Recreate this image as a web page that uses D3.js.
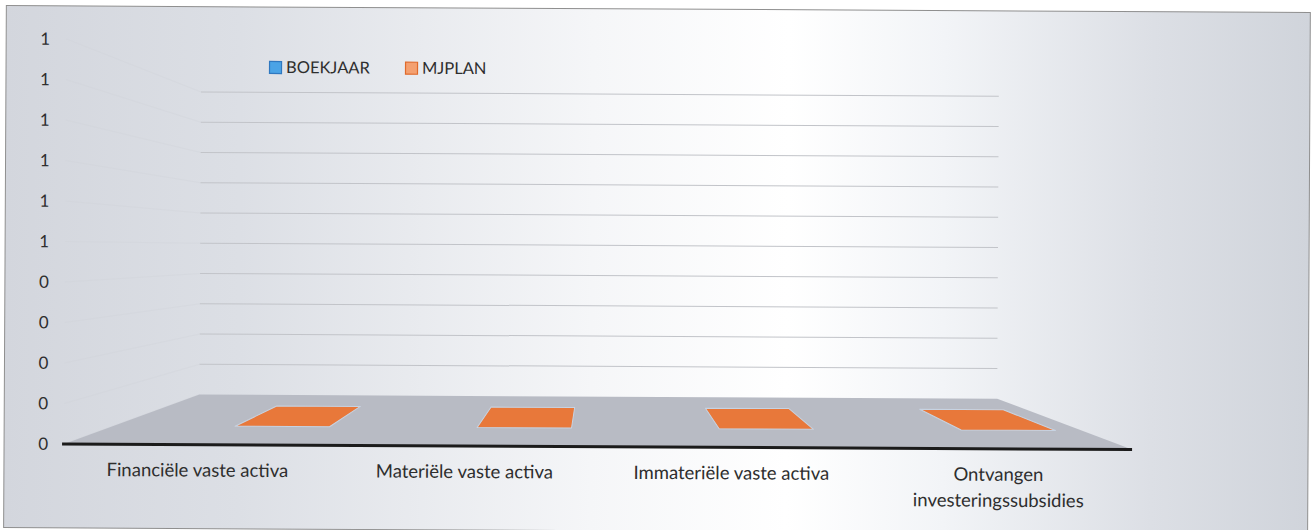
<!DOCTYPE html>
<html>
<head>
<meta charset="utf-8">
<script src="https://cdn.jsdelivr.net/npm/d3@7"></script>
<style>
  html, body { margin: 0; padding: 0; background: #ffffff; }
  svg { display: block; }
  text { font-family: Lato, "Open Sans", "Liberation Sans", sans-serif; fill: #2e2e2e; }
</style>
</head>
<body>
<svg id="chart" width="1314" height="530"></svg>
<script>
// ---------------- data ----------------
const categories = ["Financiële vaste activa", "Materiële vaste activa", "Immateriële vaste activa", "Ontvangen investeringssubsidies"];
const seriesNames = ["BOEKJAAR", "MJPLAN"];
const seriesColors = ["#3a93d6", "#e8783a"];
const boekjaar = [null, null, null, null];
const mjplan = [0, 0, 0, 0];
const yTickValues = [0, 0.1, 0.2, 0.3, 0.4, 0.5, 0.6, 0.7, 0.8, 0.9, 1.0];
const yTickLabels = ["0", "0", "0", "0", "0", "1", "1", "1", "1", "1", "1"];

// ---------------- layout ----------------
const svg = d3.select("#chart");
const defs = svg.append("defs");

const bg = defs.append("linearGradient").attr("id", "bgGrad").attr("x1", "0%").attr("x2", "100%").attr("y1", "0%").attr("y2", "0%");
[["0%", "#d3d6dd"], ["18%", "#dcdfe5"], ["45%", "#f5f6f8"], ["60%", "#ffffff"], ["72%", "#f2f4f7"], ["88%", "#dcdfe5"], ["100%", "#d0d4db"]]
  .forEach(([o, c]) => bg.append("stop").attr("offset", o).attr("stop-color", c));

const root = svg.append("g").attr("transform", "rotate(0.3, 657, 265)");

// chart area background + frame
root.append("rect").attr("x", 5).attr("y", 9).attr("width", 1304).attr("height", 522)
  .attr("fill", "url(#bgGrad)").attr("stroke", "#8f8f8f").attr("stroke-width", 1);

// scales (front plane)
const x0 = d3.scaleBand().domain(categories).range([65, 1133]).paddingInner(0.22).paddingOuter(0.11);
const xAxisBand = d3.scaleBand().domain(categories).range([65, 1133]);
const x1 = d3.scaleBand().domain(seriesNames).range([0, x0.bandwidth()]);
const y = d3.scaleLinear().domain([0, 1]).range([447, 42]);

// perspective projection: depth t in [0 (front), 1 (back)]
const V = { x: 599, y: 249 };
const backScale = 0.747;
function proj(xf, yf, t) {
  const s = 1 - (1 - backScale) * t;
  return [V.x + (xf - V.x) * s, V.y + (yf - V.y) * s];
}
const [xa, xb] = x0.range();

// side wall gridlines (very faint)
root.append("g").selectAll("line").data(yTickValues).join("line")
  .attr("x1", d => proj(xa, y(d), 0)[0]).attr("y1", d => proj(xa, y(d), 0)[1])
  .attr("x2", d => proj(xa, y(d), 1)[0]).attr("y2", d => proj(xa, y(d), 1)[1])
  .attr("stroke", "#d0d3d9").attr("stroke-width", 1).attr("opacity", 0.35);

// back wall gridlines
root.append("g").selectAll("line").data(yTickValues.filter(v => v > 0)).join("line")
  .attr("x1", d => proj(xa, y(d), 1)[0]).attr("y1", d => proj(xa, y(d), 1)[1])
  .attr("x2", d => proj(xb, y(d), 1)[0]).attr("y2", d => proj(xb, y(d), 1)[1])
  .attr("stroke", "#c2c4c9").attr("stroke-width", 1);

// floor
const y0 = y(0);
root.append("polygon")
  .attr("points", [proj(xa, y0, 0), proj(xb, y0, 0), proj(xb, y0, 1), proj(xa, y0, 1)].map(p => p.join(",")).join(" "))
  .attr("fill", "#b8bbc4");

// bars (3D columns: front face + top face)
const seriesData = [boekjaar, mjplan];
const tFront = 0.37, tBack = 0.78;
const barItems = [];
seriesData.forEach((vals, si) => {
  vals.forEach((v, ci) => {
    if (v === null || v === undefined) return;
    barItems.push({ series: seriesNames[si], color: seriesColors[si], cat: categories[ci], value: v });
  });
});
const bars = root.append("g").selectAll("g").data(barItems).join("g");
bars.append("polygon")
  .attr("points", d => {
    const xl = x0(d.cat) + x1(d.series), xr = xl + x1.bandwidth();
    return [proj(xl, y(0), tFront), proj(xr, y(0), tFront), proj(xr, y(d.value), tFront), proj(xl, y(d.value), tFront)].map(p => p.join(",")).join(" ");
  })
  .attr("fill", d => d.color);
bars.append("polygon")
  .attr("points", d => {
    const xl = x0(d.cat) + x1(d.series), xr = xl + x1.bandwidth(), yv = y(d.value);
    return [proj(xl, yv, tFront), proj(xr, yv, tFront), proj(xr, yv, tBack), proj(xl, yv, tBack)].map(p => p.join(",")).join(" ");
  })
  .attr("fill", d => d.color)
  .attr("stroke", "#c7d3e2").attr("stroke-width", 1).attr("stroke-linejoin", "round");

// category axis line
root.append("line").attr("x1", xa - 2).attr("x2", xb).attr("y1", y0).attr("y2", y0)
  .attr("stroke", "#1b1b1b").attr("stroke-width", 3);

// y axis labels
const yAxis = d3.axisLeft(y).tickValues(yTickValues).tickSize(0).tickPadding(0)
  .tickFormat((d, i) => yTickLabels[i]);
const yg = root.append("g").attr("transform", "translate(49,0)").call(yAxis);
yg.select(".domain").remove();
yg.selectAll("text").style("font-family", "Lato, 'Open Sans', sans-serif").style("font-size", "17px").attr("fill", "#2e2e2e");

// category labels (wrapped)
const catG = root.append("g");
const catFont = "18.5px";
categories.forEach(c => {
  const cx = xAxisBand(c) + xAxisBand.bandwidth() / 2;
  const t = catG.append("text").attr("x", cx).attr("y", 479).attr("text-anchor", "middle").style("font-size", catFont);
  const words = c.split(" ");
  const lines = [];
  let cur = [];
  const tmp = catG.append("text").style("font-size", catFont);
  words.forEach(w => {
    const test = cur.concat([w]).join(" ");
    tmp.text(test);
    if (tmp.node().getComputedTextLength() > 230 && cur.length) { lines.push(cur.join(" ")); cur = [w]; }
    else cur.push(w);
  });
  lines.push(cur.join(" "));
  tmp.remove();
  lines.forEach((l, i) => t.append("tspan").attr("x", cx).attr("dy", i === 0 ? 0 : 26).text(l));
});

// legend
const legend = root.append("g").attr("transform", "translate(268,63)");
const legendX = [0, 136];
seriesNames.forEach((s, i) => {
  const g = legend.append("g").attr("transform", `translate(${legendX[i]},0)`);
  g.append("rect").attr("x", 0.5).attr("y", 0.5).attr("width", 12).attr("height", 12)
    .attr("fill", i === 0 ? "#4aa3e6" : "#f4a070").attr("stroke", i === 0 ? "#2f78c0" : "#e06a2b").attr("stroke-width", 1.2);
  g.append("text").attr("x", 17).attr("y", 12).style("font-size", "16.5px").text(s);
});
</script>
</body>
</html>
